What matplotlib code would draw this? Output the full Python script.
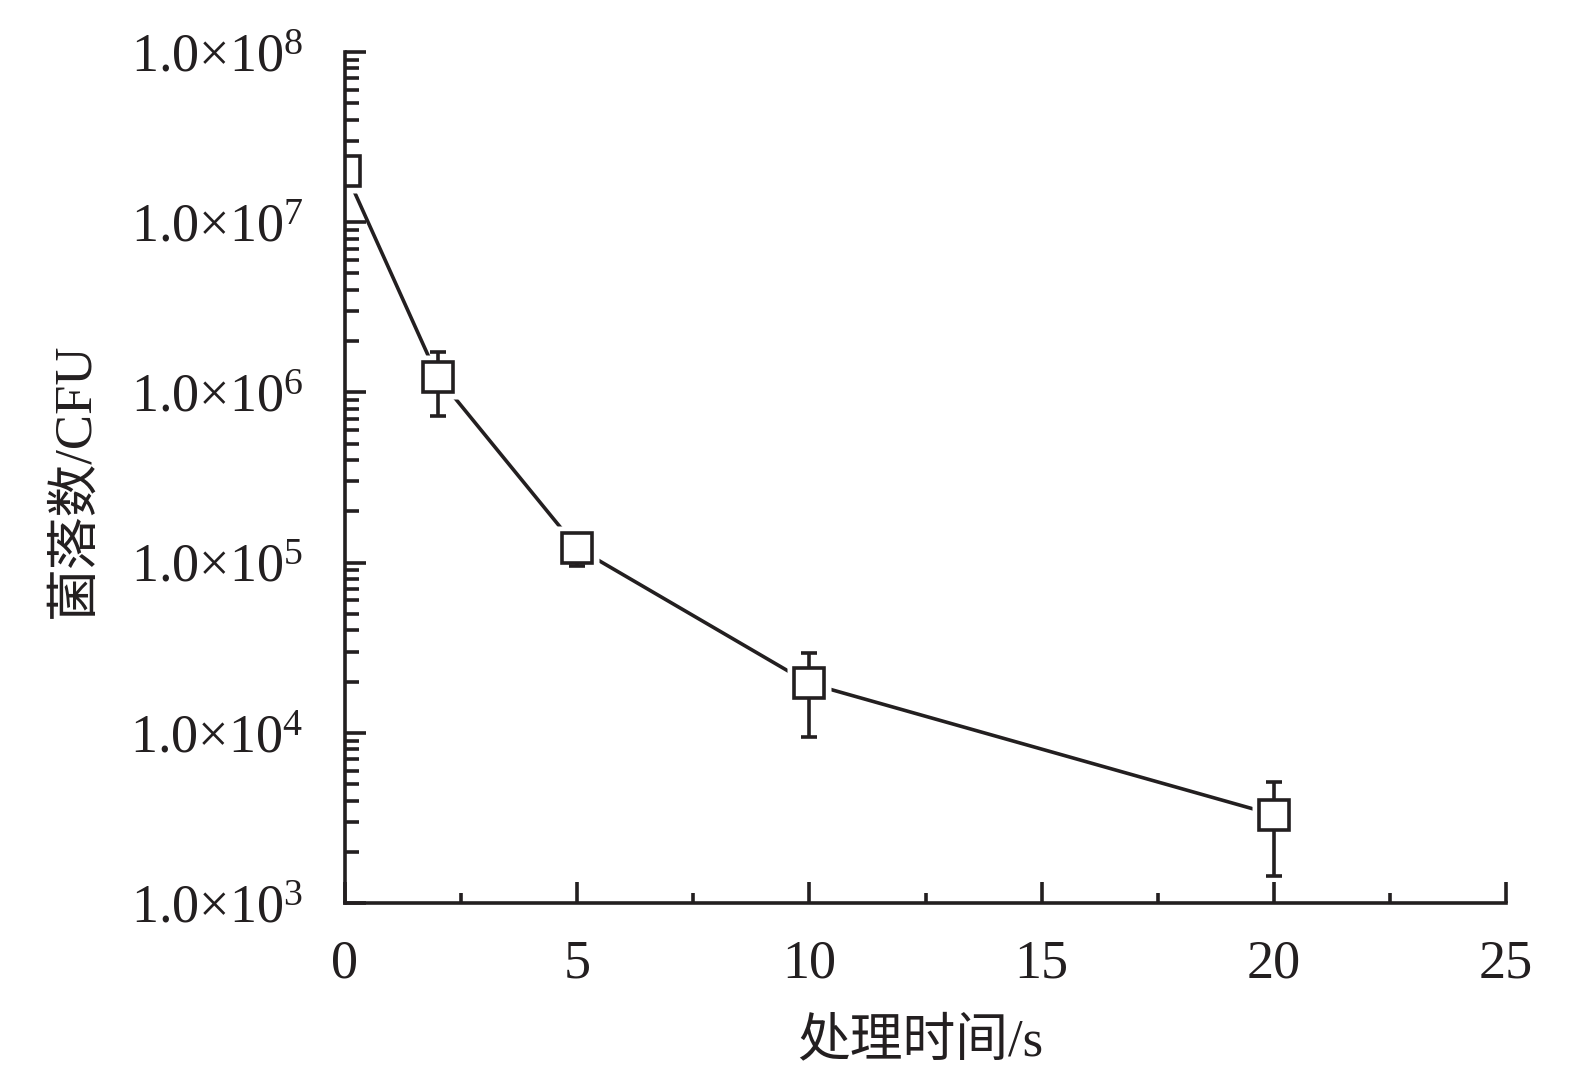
import matplotlib
matplotlib.use("Agg")
import matplotlib.pyplot as plt
from matplotlib.ticker import LogLocator, FixedLocator, NullFormatter

plt.rcParams['font.family'] = ['Liberation Serif', 'Noto Sans CJK SC']
plt.rcParams['mathtext.fontset'] = 'custom'
plt.rcParams['mathtext.rm'] = 'Liberation Serif'
plt.rcParams['mathtext.it'] = 'Liberation Serif'

# data
time_s = [0, 2, 5, 10, 20]
cfu = [2.0e7, 1.23e6, 1.22e5, 1.95e4, 3.3e3]
cfu_err = [0, 0.5e6, 0.26e5, 1.0e4, 1.85e3]
x_ticks = [0, 5, 10, 15, 20, 25]
y_ticks = [1e3, 1e4, 1e5, 1e6, 1e7, 1e8]
y_tick_labels = ['1.0×10$^{3}$', '1.0×10$^{4}$', '1.0×10$^{5}$',
                 '1.0×10$^{6}$', '1.0×10$^{7}$', '1.0×10$^{8}$']
xlabel = '处理时间/s'
ylabel = '菌落数/CFU'

fig = plt.figure(figsize=(15.76, 10.83), dpi=100)
ax = fig.add_axes([0.2189, 0.1662, 0.9556 - 0.2189, 0.952 - 0.1662])

col = '#231f20'
lw = 2.6
ax.plot(time_s, cfu, '-', color=col, lw=lw, zorder=1)
ax.plot(time_s, cfu, 's', ms=31, mfc='white', mec='none', zorder=2)
ax.errorbar(time_s, cfu, yerr=cfu_err, fmt='none', ecolor=col, elinewidth=lw,
            capsize=5.5, capthick=lw, zorder=3)
ax.plot(time_s, cfu, 's', ms=21, mfc='white', mec=col, mew=lw, zorder=4)

ax.set_yscale('log')
ax.set_xlim(0, 25)
ax.set_ylim(1e3, 1e8)
ax.spines['top'].set_visible(False)
ax.spines['right'].set_visible(False)
for s in ['left', 'bottom']:
    ax.spines[s].set_linewidth(lw)
    ax.spines[s].set_color(col)
    ax.spines[s].set_zorder(5)

ax.set_xticks(x_ticks)
ax.set_xticklabels([str(v) for v in x_ticks])
ax.xaxis.set_minor_locator(FixedLocator([2.5, 7.5, 12.5, 17.5, 22.5]))
ax.set_yticks(y_ticks)
ax.set_yticklabels(y_tick_labels)
ax.yaxis.set_minor_locator(LogLocator(base=10, subs=range(2, 10), numticks=20))
ax.yaxis.set_minor_formatter(NullFormatter())

ax.tick_params(axis='both', which='major', direction='in', length=15, width=lw,
               color=col, labelsize=39, labelcolor=col)
ax.tick_params(axis='y', which='major', pad=30)
ax.tick_params(axis='x', which='major', pad=26)
ax.tick_params(axis='both', which='minor', direction='in', width=lw, color=col)
ax.tick_params(axis='y', which='minor', length=10)
ax.tick_params(axis='x', which='minor', length=7)

fig.text(0.5836, 0.038, xlabel, ha='center', va='center', fontsize=38, color=col)
fig.text(0.0476, 0.557, ylabel, ha='center', va='center', fontsize=38, color=col,
         rotation=90)

fig.savefig('out.png', dpi=100)
